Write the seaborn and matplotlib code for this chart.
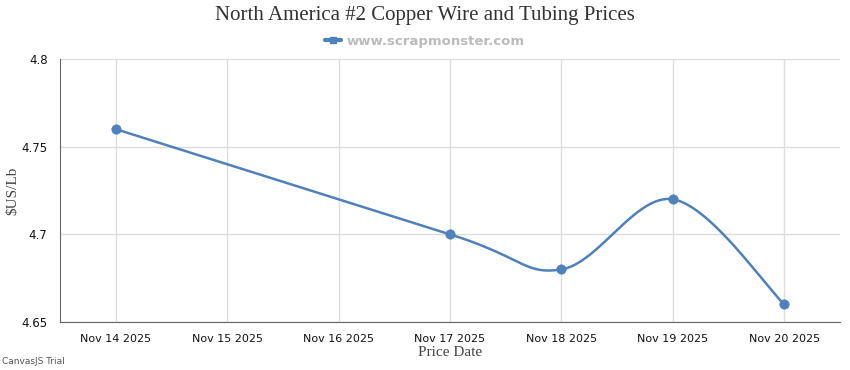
import numpy as np
import pandas as pd
import matplotlib
matplotlib.use("Agg")
import matplotlib.pyplot as plt
import seaborn as sns
from matplotlib.lines import Line2D

# data
dates = ["2025-11-14", "2025-11-17", "2025-11-18", "2025-11-19", "2025-11-20"]
prices = [4.76, 4.70, 4.68, 4.72, 4.66]
tick_labels = ["Nov 14 2025", "Nov 15 2025", "Nov 16 2025", "Nov 17 2025",
               "Nov 18 2025", "Nov 19 2025", "Nov 20 2025"]
y_ticks = [4.65, 4.7, 4.75, 4.8]
y_tick_labels = ["4.65", "4.7", "4.75", "4.8"]

color = "#4F81BC"

df = pd.DataFrame({"date": pd.to_datetime(dates), "price": prices})
start = df["date"].min()
df["day"] = (df["date"] - start).dt.days.astype(float)


# spline like the canvas chart (cardinal bezier, tension 2)
def spline(xs, ys, steps=60):
    pts = np.column_stack([xs, ys])
    n = len(pts)
    out = [pts[0]]
    for i in range(1, n):
        a = i - 1
        d1 = (pts[min(a + 1, n - 1)] - pts[max(a - 1, 0)]) / 2
        d2 = (pts[min(i + 1, n - 1)] - pts[max(i - 1, 0)]) / 2
        p0, p3 = pts[a], pts[i]
        p1 = p0 + d1 / 3
        p2 = p3 - d2 / 3
        t = np.linspace(0, 1, steps)[1:, None]
        seg = ((1 - t) ** 3) * p0 + 3 * ((1 - t) ** 2) * t * p1 + 3 * (1 - t) * t ** 2 * p2 + t ** 3 * p3
        out.extend(seg)
    out = np.array(out)
    return pd.DataFrame({"day": out[:, 0], "price": out[:, 1]})


curve = spline(df["day"].values, df["price"].values)

sns.set_style("whitegrid", {"grid.color": "#dddddd", "axes.edgecolor": "#666666"})
plt.rcParams["font.family"] = ["DejaVu Sans"]

fig, ax = plt.subplots(figsize=(8.5, 3.7), dpi=100)
fig.subplots_adjust(left=60 / 850, right=840 / 850, top=1 - 59 / 370, bottom=1 - 322 / 370)

sns.lineplot(data=curve, x="day", y="price", ax=ax, color=color, linewidth=1.8, sort=False)
sns.scatterplot(data=df, x="day", y="price", ax=ax, color=color, s=45, edgecolor=color, zorder=3)

ax.set_xlim(-0.5, 6.5)
ax.set_ylim(4.65, 4.8)
ax.set_xticks(range(len(tick_labels)))
ax.set_xticklabels(tick_labels, fontsize=8, color="#111111")
ax.set_yticks(y_ticks)
ax.set_yticklabels(y_tick_labels, fontsize=8.5, color="#111111")
ax.tick_params(axis="both", length=5, color="#666666", width=1, pad=4)
ax.grid(True, color="#dddddd", linewidth=1)
for s in ["top", "right"]:
    ax.spines[s].set_visible(False)
ax.spines["left"].set_color("#666666")
ax.spines["bottom"].set_color("#666666")

ax.set_xlabel("Price Date", family="Liberation Serif", fontsize=11, color="#444444", labelpad=1)
ax.set_ylabel("\\$US/Lb", family="Liberation Serif", fontsize=11, color="#444444")
ax.yaxis.set_label_coords(-0.052, 0.5)

fig.suptitle("North America #2 Copper Wire and Tubing Prices", family="Liberation Serif",
             fontsize=15, color="#333333", y=0.983)

handle = Line2D([0], [0], color=color, linewidth=3, marker="s", markersize=5)
leg = fig.legend([handle], ["www.scrapmonster.com"], loc="center", bbox_to_anchor=(0.5, 1 - 41 / 370),
                 frameon=False, handlelength=1.2, handletextpad=0.4,
                 prop={"weight": "bold", "size": 9.5})
for t in leg.get_texts():
    t.set_color("#bbbbbb")

fig.text(2 / 850, 1 - 362 / 370, "CanvasJS Trial", fontsize=6.5, color="#555555", va="center")

fig.savefig("out.png", dpi=100)
